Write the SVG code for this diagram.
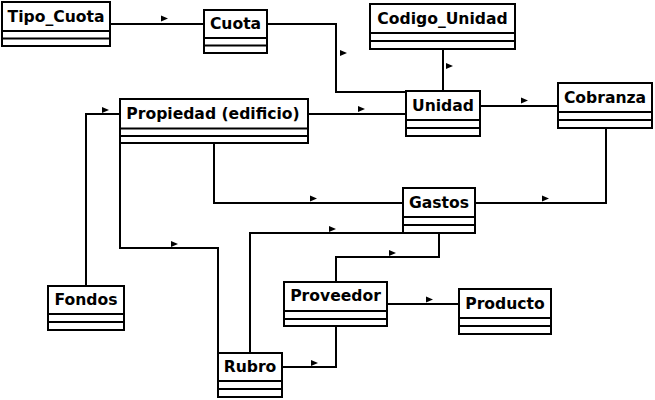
<svg xmlns="http://www.w3.org/2000/svg" xmlns:xlink="http://www.w3.org/1999/xlink" width="655" height="400" viewBox="0 0 655 400">
<style>
.box rect{fill:#fff;stroke:#000;stroke-width:2}
.box line{stroke:#000;stroke-width:2}
.box text{font-family:"DejaVu Sans",sans-serif;font-weight:bold;font-size:15.6px;text-anchor:middle;fill:#000}
#connectors path{fill:none;stroke:#000;stroke-width:2}
#connectors use{fill:#000}
</style>
<defs>
<polygon id="arr" points="0,-3 7,0 0,3"/>
</defs>
<rect width="655" height="400" fill="#fff"/>
<g id="connectors">
<path d="M110,24 H204"/>
<path d="M267,24 H336 V92 H406"/>
<path d="M443,49 V91"/>
<path d="M308,114 H406"/>
<path d="M480,106 H558"/>
<path d="M606,128 V203 H475"/>
<path d="M214,143 V203 H403"/>
<path d="M120,143 V248 H218 V353"/>
<path d="M86,286 V114 H120"/>
<path d="M250,353 V233 H403"/>
<path d="M336,282 V257 H439 V233"/>
<path d="M387,304 H459"/>
<path d="M282,367 H336 V326"/>
<use xlink:href="#arr" x="161" y="18.5"/>
<use xlink:href="#arr" x="340" y="53"/>
<use xlink:href="#arr" x="446" y="66"/>
<use xlink:href="#arr" x="358" y="109"/>
<use xlink:href="#arr" x="521" y="100.5"/>
<use xlink:href="#arr" x="542" y="198.5"/>
<use xlink:href="#arr" x="310" y="198.5"/>
<use xlink:href="#arr" x="171" y="244"/>
<use xlink:href="#arr" x="102" y="110"/>
<use xlink:href="#arr" x="329" y="229"/>
<use xlink:href="#arr" x="389" y="253"/>
<use xlink:href="#arr" x="426" y="299.5"/>
<use xlink:href="#arr" x="311" y="363"/>
</g>
<g id="tipo_cuota" class="box"><rect x="2" y="2" width="108" height="44"/><line x1="2" y1="31" x2="110" y2="31"/><line x1="2" y1="38.5" x2="110" y2="38.5"/><text x="56" y="22">Tipo_Cuota</text></g>
<g id="cuota" class="box"><rect x="204" y="10" width="63" height="43"/><line x1="204" y1="38" x2="267" y2="38"/><line x1="204" y1="45.5" x2="267" y2="45.5"/><text x="235.5" y="29">Cuota</text></g>
<g id="codigo_unidad" class="box"><rect x="370" y="4" width="145" height="45"/><line x1="370" y1="33" x2="515" y2="33"/><line x1="370" y1="41" x2="515" y2="41"/><text x="442.5" y="24">Codigo_Unidad</text></g>
<g id="unidad" class="box"><rect x="406" y="91" width="74" height="45"/><line x1="406" y1="120" x2="480" y2="120"/><line x1="406" y1="128" x2="480" y2="128"/><text x="443" y="111">Unidad</text></g>
<g id="cobranza" class="box"><rect x="558" y="83" width="94" height="45"/><line x1="558" y1="112" x2="652" y2="112"/><line x1="558" y1="120" x2="652" y2="120"/><text x="605" y="103">Cobranza</text></g>
<g id="propiedad" class="box"><rect x="120" y="99" width="188" height="44"/><line x1="120" y1="128.5" x2="308" y2="128.5"/><line x1="120" y1="136" x2="308" y2="136"/><text x="213" y="119">Propiedad (edificio)</text></g>
<g id="gastos" class="box"><rect x="403" y="188" width="72" height="45"/><line x1="403" y1="217" x2="475" y2="217"/><line x1="403" y1="225" x2="475" y2="225"/><text x="439" y="208">Gastos</text></g>
<g id="fondos" class="box"><rect x="48" y="286" width="76" height="44"/><line x1="48" y1="314" x2="124" y2="314"/><line x1="48" y1="322" x2="124" y2="322"/><text x="86" y="305">Fondos</text></g>
<g id="proveedor" class="box"><rect x="284" y="282" width="103" height="44"/><line x1="284" y1="311" x2="387" y2="311"/><line x1="284" y1="319" x2="387" y2="319"/><text x="335.5" y="301">Proveedor</text></g>
<g id="producto" class="box"><rect x="459" y="289" width="92" height="45"/><line x1="459" y1="318" x2="551" y2="318"/><line x1="459" y1="326" x2="551" y2="326"/><text x="505" y="309">Producto</text></g>
<g id="rubro" class="box"><rect x="218" y="353" width="64" height="44"/><line x1="218" y1="381" x2="282" y2="381"/><line x1="218" y1="389" x2="282" y2="389"/><text x="250" y="372">Rubro</text></g>
</svg>
